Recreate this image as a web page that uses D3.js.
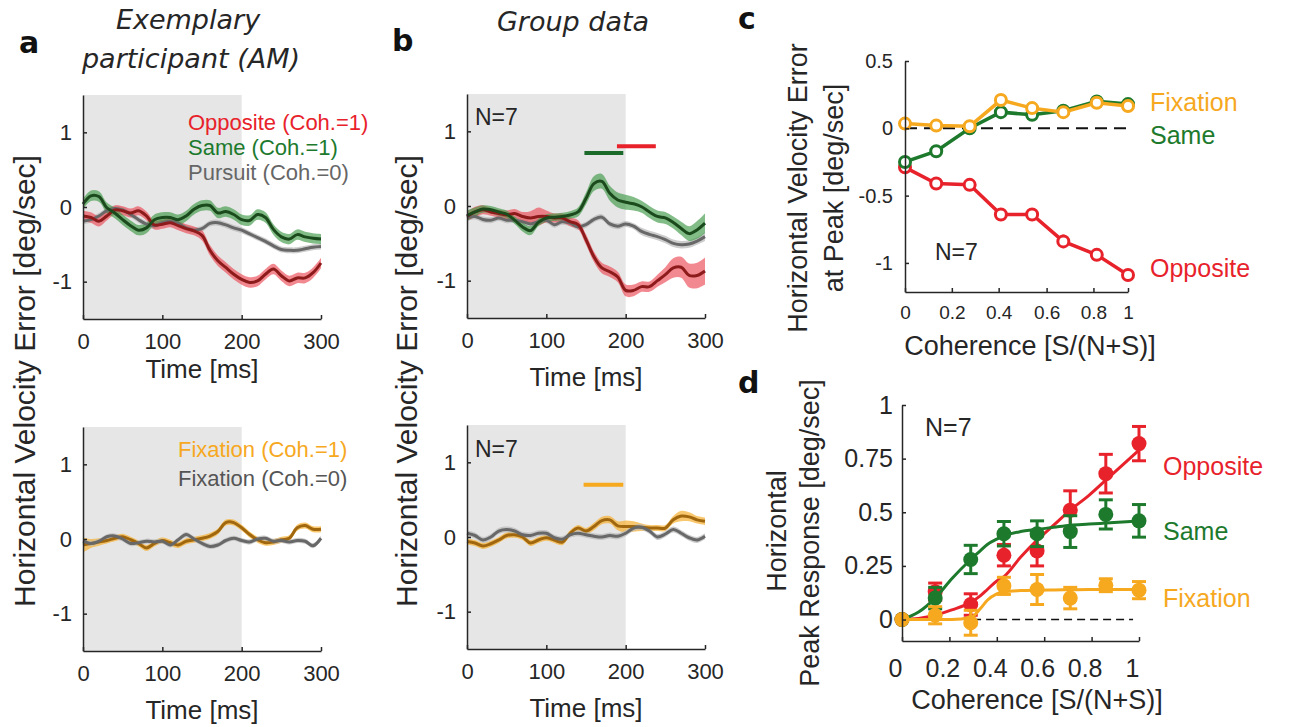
<!DOCTYPE html>
<html>
<head>
<meta charset="utf-8">
<script src="https://cdn.jsdelivr.net/npm/d3@7"></script>
<style>
body { margin: 0; background: #fff; }
text { font-family: "Liberation Sans", Arial, sans-serif; }
</style>
</head>
<body>
<svg id="fig" width="1295" height="727"></svg>
<script>
// time axis (ms) shared by the velocity traces
const timeMs = [0,10,20,30,40,50,60,70,80,90,100,110,120,130,140,150,160,170,180,190,200,210,220,230,240,250,260,270,280,290,300];
const timeTicks = [0, 100, 200, 300];
const velTicks = [-1, 0, 1];
const velTickLabels = ['-1', '0', '1'];
const shadeEnd = 200;

// panel a, top: exemplary participant
const aOppMean = [-0.12,-0.14,-0.19,-0.12,-0.04,-0.05,-0.08,-0.05,-0.12,-0.24,-0.23,-0.21,-0.25,-0.29,-0.32,-0.38,-0.58,-0.72,-0.81,-0.90,-0.97,-1.01,-0.99,-0.90,-0.83,-0.92,-0.99,-0.95,-0.95,-0.88,-0.75];
const aOppSem = [0.07,0.07,0.07,0.06,0.06,0.06,0.06,0.06,0.06,0.06,0.06,0.06,0.06,0.06,0.06,0.07,0.07,0.07,0.07,0.07,0.07,0.07,0.07,0.07,0.07,0.07,0.07,0.07,0.07,0.07,0.07];
const aSameMean = [0.04,0.15,0.14,-0.01,-0.08,-0.17,-0.25,-0.31,-0.28,-0.17,-0.14,-0.14,-0.17,-0.12,-0.03,0.02,0.02,-0.08,-0.06,-0.10,-0.17,-0.18,-0.10,-0.14,-0.30,-0.40,-0.43,-0.37,-0.40,-0.42,-0.43];
const aSameSem = [0.07,0.07,0.07,0.07,0.07,0.07,0.07,0.07,0.07,0.07,0.07,0.07,0.07,0.07,0.07,0.07,0.07,0.07,0.07,0.07,0.07,0.07,0.07,0.07,0.07,0.07,0.07,0.07,0.07,0.07,0.07];
const aPursuitMean = [-0.19,-0.17,-0.12,-0.05,-0.02,-0.04,-0.10,-0.17,-0.23,-0.25,-0.21,-0.19,-0.22,-0.28,-0.31,-0.29,-0.22,-0.21,-0.24,-0.28,-0.31,-0.36,-0.41,-0.46,-0.52,-0.57,-0.58,-0.58,-0.56,-0.54,-0.53];
const aPursuitSem = [0.04,0.04,0.04,0.04,0.04,0.04,0.04,0.04,0.04,0.04,0.04,0.04,0.04,0.04,0.04,0.04,0.04,0.04,0.04,0.04,0.04,0.04,0.04,0.04,0.04,0.04,0.04,0.04,0.04,0.04,0.04];

// panel a, bottom
const aFixMean = [-0.08,-0.06,-0.04,-0.02,0.01,0.03,-0.01,-0.06,-0.12,-0.06,-0.02,-0.05,-0.08,-0.03,-0.01,0.01,0.04,0.10,0.22,0.22,0.15,0.06,-0.01,-0.05,-0.04,-0.01,0.01,0.15,0.18,0.13,0.13];
const aFixSem = [0.10,0.06,0.05,0.04,0.04,0.04,0.04,0.04,0.04,0.04,0.04,0.04,0.04,0.04,0.04,0.04,0.04,0.04,0.04,0.04,0.04,0.04,0.04,0.04,0.04,0.04,0.04,0.04,0.04,0.04,0.04];
const aFix0Mean = [-0.03,-0.06,-0.03,0.03,0.04,0.00,-0.06,-0.05,-0.03,-0.04,-0.03,-0.08,-0.01,0.06,0.00,-0.06,-0.10,-0.08,-0.02,0.01,-0.02,-0.04,0.00,0.01,-0.03,-0.02,-0.04,-0.02,-0.03,-0.09,0.01];
const aFix0Sem = [0.035,0.035,0.035,0.035,0.035,0.035,0.035,0.035,0.035,0.035,0.035,0.035,0.035,0.035,0.035,0.035,0.035,0.035,0.035,0.035,0.035,0.035,0.035,0.035,0.035,0.035,0.035,0.035,0.035,0.035,0.035];

// panel b, top: group data
const bOppMean = [-0.14,-0.08,-0.05,-0.08,-0.10,-0.12,-0.10,-0.14,-0.16,-0.14,-0.14,-0.16,-0.16,-0.21,-0.25,-0.45,-0.68,-0.83,-0.88,-0.95,-1.13,-1.13,-1.08,-1.08,-1.00,-0.92,-0.83,-0.82,-0.93,-0.93,-0.87];
const bOppSem = [0.06,0.07,0.06,0.05,0.05,0.06,0.06,0.06,0.09,0.12,0.08,0.06,0.06,0.06,0.06,0.07,0.07,0.07,0.07,0.07,0.08,0.08,0.07,0.07,0.08,0.10,0.13,0.14,0.16,0.17,0.18];
const bSameMean = [-0.13,-0.08,-0.04,-0.05,-0.08,-0.11,-0.19,-0.28,-0.33,-0.22,-0.16,-0.15,-0.14,-0.12,-0.08,0.10,0.30,0.33,0.17,0.08,0.05,0.03,-0.01,-0.08,-0.14,-0.16,-0.22,-0.30,-0.37,-0.32,-0.23];
const bSameSem = [0.07,0.06,0.05,0.05,0.05,0.05,0.05,0.06,0.06,0.05,0.05,0.05,0.05,0.05,0.06,0.08,0.10,0.10,0.10,0.10,0.10,0.09,0.08,0.08,0.08,0.08,0.08,0.09,0.10,0.12,0.13];
const bPursuitMean = [-0.16,-0.14,-0.18,-0.19,-0.16,-0.19,-0.19,-0.21,-0.24,-0.21,-0.19,-0.25,-0.21,-0.23,-0.28,-0.25,-0.18,-0.15,-0.24,-0.27,-0.24,-0.27,-0.34,-0.38,-0.41,-0.45,-0.50,-0.52,-0.51,-0.47,-0.41];
const bPursuitSem = [0.04,0.04,0.04,0.04,0.04,0.04,0.04,0.04,0.04,0.04,0.04,0.04,0.04,0.04,0.04,0.04,0.04,0.04,0.04,0.04,0.04,0.04,0.05,0.05,0.05,0.05,0.05,0.05,0.05,0.05,0.06];

// panel b, bottom
const bFixMean = [-0.06,-0.08,-0.12,-0.09,-0.04,0.02,0.03,0.00,-0.08,-0.04,-0.01,-0.04,-0.07,0.05,0.12,0.08,0.14,0.22,0.23,0.15,0.14,0.14,0.13,0.12,0.12,0.12,0.23,0.28,0.27,0.23,0.21];
const bFixSem = [0.04,0.04,0.04,0.04,0.04,0.04,0.04,0.04,0.04,0.04,0.04,0.04,0.04,0.04,0.04,0.04,0.05,0.05,0.05,0.06,0.08,0.07,0.05,0.04,0.04,0.04,0.05,0.07,0.06,0.05,0.05];
const bFix0Mean = [0.05,0.02,-0.04,0.00,0.08,0.10,0.08,0.03,0.02,0.05,0.05,-0.01,-0.03,0.03,0.05,0.03,0.01,0.00,0.02,0.01,0.05,0.12,0.13,0.08,0.00,0.04,0.10,0.05,-0.01,-0.04,0.01];
const bFix0Sem = [0.04,0.04,0.04,0.04,0.04,0.04,0.04,0.04,0.04,0.04,0.04,0.04,0.04,0.04,0.04,0.04,0.04,0.04,0.04,0.04,0.04,0.04,0.04,0.04,0.04,0.04,0.04,0.04,0.04,0.04,0.04];

// significance bars [start ms, end ms, level]
const sigSameB = [148, 197, 0.71];
const sigOppB = [189, 238, 0.80];
const sigFixB = [147, 197, 0.70];

// panels c and d: coherence levels
const coherence = [0, 0.14, 0.29, 0.43, 0.57, 0.71, 0.86, 1];
const cTickVals = [0, 0.21, 0.42, 0.635, 0.845, 1];
const cTickLabels = ['0', '0.2', '0.4', '0.6', '0.8', '1'];
const cYTicks = [-1, -0.5, 0, 0.5];
const cYTickLabels = ['-1', '-0.5', '0', '0.5'];
const cOpposite = [-0.29, -0.41, -0.42, -0.64, -0.64, -0.84, -0.94, -1.09];
const cOppErr = [0.02, 0.02, 0.02, 0.03, 0.02, 0.05, 0.03, 0.03];
const cSame = [-0.25, -0.17, 0.00, 0.12, 0.10, 0.13, 0.20, 0.18];
const cSameErr = [0.02, 0.02, 0.04, 0.03, 0.02, 0.02, 0.02, 0.03];
const cFixation = [0.035, 0.02, 0.015, 0.21, 0.15, 0.12, 0.19, 0.165];
const cFixErr = [0.01, 0.01, 0.02, 0.04, 0.02, 0.02, 0.02, 0.02];

const dXTicks = [0, 0.2, 0.4, 0.6, 0.8, 1];
const dXTickLabels = ['0', '0.2', '0.4', '0.6', '0.8', '1'];
const dYTicks = [0, 0.25, 0.5, 0.75, 1];
const dYTickLabels = ['0', '0.25', '0.5', '0.75', '1'];
const dOpposite = [0, 0.13, 0.07, 0.30, 0.32, 0.51, 0.68, 0.82];
const dOppErr = [0, 0.04, 0.05, 0.05, 0.07, 0.09, 0.09, 0.08];
const dSame = [0, 0.10, 0.28, 0.40, 0.40, 0.41, 0.49, 0.46];
const dSameErr = [0, 0.05, 0.066, 0.057, 0.06, 0.074, 0.068, 0.076];
const dFixation = [0, 0.02, -0.015, 0.157, 0.14, 0.10, 0.16, 0.137];
const dFixErr = [0, 0.04, 0.058, 0.04, 0.07, 0.05, 0.03, 0.04];
// fitted curves
const fitX = [0, 0.07, 0.14, 0.21, 0.29, 0.33, 0.36, 0.40, 0.43, 0.5, 0.57, 0.64, 0.71, 0.79, 0.86, 0.93, 1];
const fitOpposite = [0, 0.005, 0.02, 0.045, 0.08, 0.11, 0.14, 0.18, 0.20, 0.29, 0.37, 0.44, 0.51, 0.58, 0.65, 0.72, 0.79];
const fitSame = [0, 0.035, 0.10, 0.19, 0.28, 0.32, 0.35, 0.375, 0.39, 0.41, 0.42, 0.43, 0.44, 0.445, 0.45, 0.455, 0.46];
const fitFixation = [0, 0, 0, 0, 0.01, 0.05, 0.09, 0.12, 0.13, 0.135, 0.137, 0.138, 0.139, 0.14, 0.14, 0.14, 0.14];

const RED = '#e8222b', GREEN = '#1d7a2d', ORANGE = '#f6a81e', GREY = '#666666', AXIS = '#262626';

const svg = d3.select('#fig');

function styleAxis(g, fs) {
  g.select('.domain').attr('stroke', AXIS).attr('stroke-width', 1.5);
  g.selectAll('.tick line').attr('stroke', AXIS).attr('stroke-width', 1.5);
  g.selectAll('.tick text').attr('font-size', fs).attr('fill', AXIS);
}

function label(x, y, txt, opt) {
  opt = opt || {};
  const t = svg.append('text')
    .attr('x', x).attr('y', y)
    .attr('dy', '0.35em')
    .attr('font-size', opt.size || 22)
    .attr('fill', opt.color || AXIS)
    .attr('text-anchor', opt.anchor || 'start')
    .text(txt);
  if (opt.rotate) t.attr('transform', 'rotate(-90,' + x + ',' + y + ')');
  if (opt.italic) t.attr('font-style', 'italic');
  if (opt.bold) t.attr('font-weight', 'bold');
  if (opt.family) t.style('font-family', opt.family);
  return t;
}

function timePanel(left, top, series, bars, xLabelY) {
  const x = d3.scaleLinear().domain([0, 300]).range([left, left + 238]);
  const y = d3.scaleLinear().domain([-1.5, 1.5]).range([top + 224, top]);
  const g = svg.append('g');
  g.append('rect')
    .attr('x', x(0)).attr('y', y(1.5))
    .attr('width', x(shadeEnd) - x(0)).attr('height', y(-1.5) - y(1.5))
    .attr('fill', '#e6e6e6');

  series.forEach(s => {
    const band = d3.area().curve(d3.curveCatmullRom)
      .x((d, i) => x(timeMs[i]))
      .y0((d, i) => y(d - s.sem[i]))
      .y1((d, i) => y(d + s.sem[i]));
    g.append('path').datum(s.mean).attr('d', band)
      .attr('fill', s.band).attr('fill-opacity', s.alpha);
  });
  const line = d3.line().curve(d3.curveCatmullRom)
    .x((d, i) => x(timeMs[i])).y(d => y(d));
  series.forEach(s => {
    g.append('path').datum(s.mean).attr('d', line)
      .attr('fill', 'none').attr('stroke', s.line).attr('stroke-width', 3);
  });

  bars.forEach(b => {
    g.append('line')
      .attr('x1', x(b[0])).attr('x2', x(b[1]))
      .attr('y1', y(b[2])).attr('y2', y(b[2]))
      .attr('stroke', b[3]).attr('stroke-width', 4);
  });

  const gx = g.append('g').attr('transform', 'translate(0,' + y(-1.5) + ')')
    .call(d3.axisBottom(x).tickValues(timeTicks).tickSizeInner(-4).tickSizeOuter(0).tickPadding(14));
  styleAxis(gx, 22);
  const gy = g.append('g').attr('transform', 'translate(' + x(0) + ',0)')
    .call(d3.axisLeft(y).tickValues(velTicks).tickFormat((d, i) => velTickLabels[i])
      .tickSizeInner(-4).tickSizeOuter(0).tickPadding(11));
  styleAxis(gy, 22);

  label((x(0) + x(300)) / 2, xLabelY, 'Time [ms]', { size: 26, anchor: 'middle' });
  return { x, y };
}

const redS = (m, s) => ({ mean: m, sem: s, band: '#ec4a55', line: '#8e1b1b', alpha: 0.65 });
const greenS = (m, s) => ({ mean: m, sem: s, band: '#3f9a46', line: '#1b4a1c', alpha: 0.65 });
const greyS = (m, s) => ({ mean: m, sem: s, band: '#b8b8b8', line: '#686868', alpha: 0.7 });
const orangeS = (m, s) => ({ mean: m, sem: s, band: '#f7b031', line: '#a0670f', alpha: 0.7 });

// ---- panel a
timePanel(83, 95, [greyS(aPursuitMean, aPursuitSem), redS(aOppMean, aOppSem), greenS(aSameMean, aSameSem)], [], 369);
timePanel(83, 427, [orangeS(aFixMean, aFixSem), greyS(aFix0Mean, aFix0Sem)], [], 710);
label(188, 122, 'Opposite (Coh.=1)', { color: RED });
label(188, 147, 'Same (Coh.=1)', { color: GREEN });
label(188, 172, 'Pursuit (Coh.=0)', { color: GREY });
label(178, 449, 'Fixation (Coh.=1)', { color: ORANGE });
label(178, 478, 'Fixation (Coh.=0)', { color: '#555' });
label(24, 381, 'Horizontal Velocity Error [deg/sec]', { size: 30, anchor: 'middle', rotate: true });

// ---- panel b
timePanel(467, 94, [greyS(bPursuitMean, bPursuitSem), redS(bOppMean, bOppSem), greenS(bSameMean, bSameSem)],
  [[sigSameB[0], sigSameB[1], sigSameB[2], '#1d6b2b'], [sigOppB[0], sigOppB[1], sigOppB[2], RED]], 377);
timePanel(467, 425, [orangeS(bFixMean, bFixSem), greyS(bFix0Mean, bFix0Sem)],
  [[sigFixB[0], sigFixB[1], sigFixB[2], ORANGE]], 708);
label(475, 117, 'N=7', { size: 23 });
label(475, 449, 'N=7', { size: 23 });
label(406, 381, 'Horizontal Velocity Error [deg/sec]', { size: 30, anchor: 'middle', rotate: true });

// ---- titles and panel letters
const DJ = '"DejaVu Sans", sans-serif';
label(188, 20, 'Exemplary', { size: 27, anchor: 'middle', italic: true, family: DJ });
label(191, 59, 'participant (AM)', { size: 27, anchor: 'middle', italic: true, family: DJ });
label(573, 22, 'Group data', { size: 27, anchor: 'middle', italic: true, family: DJ });
label(19, 42, 'a', { size: 30, bold: true, family: DJ, color: '#111' });
label(392, 40, 'b', { size: 30, bold: true, family: DJ, color: '#111' });
label(738, 18, 'c', { size: 30, bold: true, family: DJ, color: '#111' });
label(738, 382, 'd', { size: 30, bold: true, family: DJ, color: '#111' });

// ---- panel c
(function () {
  const x = d3.scaleLinear().domain([0, 1]).range([905, 1128]);
  const y = d3.scaleLinear().domain([-1.216, 0.5]).range([292, 61]);
  const g = svg.append('g');
  g.append('line').attr('x1', x(0)).attr('x2', x(1)).attr('y1', y(0)).attr('y2', y(0))
    .attr('stroke', '#111').attr('stroke-width', 2).attr('stroke-dasharray', '12,7');
  const sets = [
    { v: cOpposite, e: cOppErr, c: RED },
    { v: cSame, e: cSameErr, c: GREEN },
    { v: cFixation, e: cFixErr, c: ORANGE }
  ];
  sets.forEach(s => {
    g.append('path').datum(s.v)
      .attr('d', d3.line().x((d, i) => x(coherence[i])).y(d => y(d)))
      .attr('fill', 'none').attr('stroke', s.c).attr('stroke-width', 3.5);
    g.selectAll(null).data(s.v).enter().append('line')
      .attr('x1', (d, i) => x(coherence[i])).attr('x2', (d, i) => x(coherence[i]))
      .attr('y1', (d, i) => y(d - s.e[i])).attr('y2', (d, i) => y(d + s.e[i]))
      .attr('stroke', s.c).attr('stroke-width', 3);
    g.selectAll(null).data(s.v).enter().append('circle')
      .attr('cx', (d, i) => x(coherence[i])).attr('cy', d => y(d)).attr('r', 5.5)
      .attr('fill', '#fff').attr('stroke', s.c).attr('stroke-width', 3);
  });
  const gx = g.append('g').attr('transform', 'translate(0,292)')
    .call(d3.axisBottom(x).tickValues(cTickVals).tickFormat((d, i) => cTickLabels[i])
      .tickSizeInner(-4).tickSizeOuter(0).tickPadding(14));
  styleAxis(gx, 19);
  const gy = g.append('g').attr('transform', 'translate(905,0)')
    .call(d3.axisLeft(y).tickValues(cYTicks).tickFormat((d, i) => cYTickLabels[i])
      .tickSizeInner(-4).tickSizeOuter(0).tickPadding(12));
  styleAxis(gy, 20);
  label(935, 252, 'N=7', { size: 23 });
  label(1150, 102, 'Fixation', { size: 25, color: ORANGE });
  label(1150, 135, 'Same', { size: 25, color: GREEN });
  label(1150, 268, 'Opposite', { size: 25, color: RED });
  label(1030, 346, 'Coherence [S/(N+S)]', { size: 27, anchor: 'middle' });
  label(798, 188, 'Horizontal Velocity Error', { size: 27, anchor: 'middle', rotate: true });
  label(834, 188, 'at Peak [deg/sec]', { size: 27, anchor: 'middle', rotate: true });
})();

// ---- panel d
(function () {
  const x = d3.scaleLinear().domain([0, 1]).range([902, 1139]);
  const y = d3.scaleLinear().domain([-0.1, 1]).range([641, 405]);
  const g = svg.append('g');
  g.append('line').attr('x1', x(0.30)).attr('x2', x(0.975)).attr('y1', y(0)).attr('y2', y(0))
    .attr('stroke', '#111').attr('stroke-width', 1.6).attr('stroke-dasharray', '8,5');
  const sets = [
    { v: dOpposite, e: dOppErr, f: fitOpposite, c: RED },
    { v: dSame, e: dSameErr, f: fitSame, c: GREEN },
    { v: dFixation, e: dFixErr, f: fitFixation, c: ORANGE }
  ];
  sets.forEach(s => {
    g.append('path').datum(s.f)
      .attr('d', d3.line().curve(d3.curveMonotoneX).x((d, i) => x(fitX[i])).y(d => y(d)))
      .attr('fill', 'none').attr('stroke', s.c).attr('stroke-width', 3);
    const eb = g.selectAll(null).data(s.v).enter().append('g');
    eb.append('line')
      .attr('x1', (d, i) => x(coherence[i])).attr('x2', (d, i) => x(coherence[i]))
      .attr('y1', (d, i) => y(d - s.e[i])).attr('y2', (d, i) => y(d + s.e[i]))
      .attr('stroke', s.c).attr('stroke-width', 3);
    [-1, 1].forEach(sg => {
      eb.append('line')
        .attr('x1', (d, i) => x(coherence[i]) - 7).attr('x2', (d, i) => x(coherence[i]) + 7)
        .attr('y1', (d, i) => y(d + sg * s.e[i])).attr('y2', (d, i) => y(d + sg * s.e[i]))
        .attr('stroke', s.c).attr('stroke-width', 3);
    });
    g.selectAll(null).data(s.v).enter().append('circle')
      .attr('cx', (d, i) => x(coherence[i])).attr('cy', d => y(d)).attr('r', 7.5)
      .attr('fill', s.c);
  });
  const gx = g.append('g').attr('transform', 'translate(0,641)')
    .call(d3.axisBottom(x).tickValues(dXTicks).tickFormat((d, i) => dXTickLabels[i])
      .tickSizeInner(-4).tickSizeOuter(0).tickPadding(18));
  styleAxis(gx, 25);
  gx.selectAll('.tick text').attr('dx', -7);
  const gy = g.append('g').attr('transform', 'translate(902,0)')
    .call(d3.axisLeft(y).tickValues(dYTicks).tickFormat((d, i) => dYTickLabels[i])
      .tickSizeInner(-4).tickSizeOuter(0).tickPadding(9));
  styleAxis(gy, 25);
  label(925, 427, 'N=7', { size: 25 });
  label(1163, 466, 'Opposite', { size: 25, color: RED });
  label(1163, 531, 'Same', { size: 25, color: GREEN });
  label(1163, 598, 'Fixation', { size: 25, color: ORANGE });
  label(1037, 700, 'Coherence [S/(N+S)]', { size: 27, anchor: 'middle' });
  label(777, 531, 'Horizontal', { size: 27, anchor: 'middle', rotate: true });
  label(810, 533, 'Peak Response [deg/sec]', { size: 27, anchor: 'middle', rotate: true });
})();
</script>
</body>
</html>
